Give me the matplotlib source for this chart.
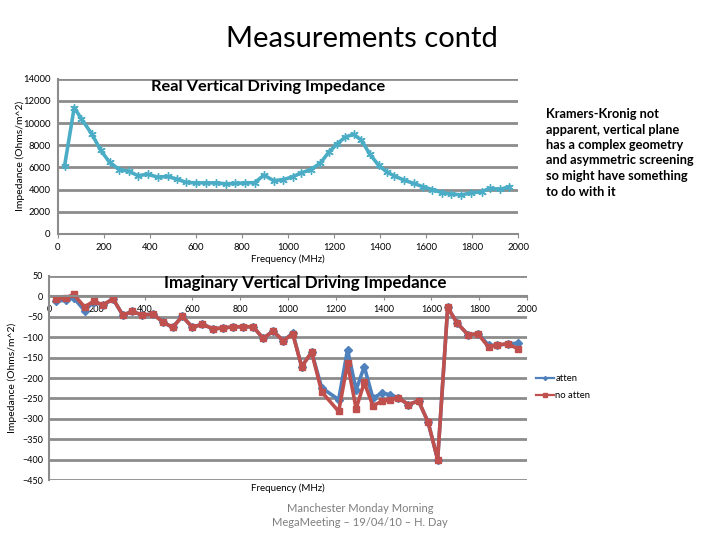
import matplotlib
matplotlib.use("Agg")
import matplotlib.pyplot as plt

plt.rcParams["font.family"] = ["Lato", "DejaVu Sans"]

# real part (Ohms/m^2) vs frequency (MHz)
freq_real = [30, 72, 103, 149, 187, 226, 268, 309, 349, 391, 435, 477, 517, 558,
             600, 642, 687, 729, 771, 813, 855, 896, 938, 980, 1020, 1057, 1099,
             1141, 1176, 1212, 1249, 1285, 1319, 1355, 1393, 1428, 1462, 1504,
             1546, 1586, 1626, 1668, 1707, 1753, 1795, 1840, 1875, 1921, 1961]
real_imp = [6100, 11400, 10400, 9000, 7550, 6450, 5800, 5650, 5250, 5380, 5120,
            5180, 4950, 4650, 4600, 4600, 4600, 4520, 4550, 4600, 4620, 5300,
            4800, 4900, 5150, 5500, 5800, 6400, 7350, 8100, 8750, 8990, 8450,
            7200, 6200, 5600, 5220, 4850, 4550, 4250, 4000, 3720, 3600, 3520,
            3700, 3800, 4100, 4020, 4250]

# imaginary part
freq_imag = [30, 72, 103, 149, 187, 226, 268, 309, 349, 391, 435, 477, 517, 558,
             600, 642, 687, 729, 771, 813, 855, 896, 938, 980, 1020, 1057, 1099,
             1141, 1212, 1249, 1285, 1319, 1355, 1393, 1428, 1462, 1504, 1546,
             1586, 1626, 1668, 1707, 1753, 1795, 1840, 1875, 1921, 1961]
imag_atten = [-11, -10, -3, -35, -14, -22, -6, -46, -37, -46, -43, -63, -76, -49,
              -76, -68, -80, -77, -75, -74, -75, -103, -85, -109, -90, -172, -137,
              -224, -253, -131, -229, -172, -249, -237, -241, -249, -265, -256,
              -308, -400, -27, -65, -94, -92, -120, -120, -116, -115]
imag_noatten = [-7, -4, 5, -26, -12, -21, -6, -46, -37, -46, -43, -63, -76, -49,
                -76, -68, -80, -77, -75, -74, -75, -103, -85, -109, -92, -172, -137,
                -234, -282, -164, -275, -211, -268, -257, -253, -249, -265, -256,
                -308, -400, -27, -65, -94, -92, -125, -118, -117, -128]

x_ticks = list(range(0, 2001, 200))
grid_col = "#8c8c8c"

fig = plt.figure(figsize=(7.2, 5.4), dpi=100)
fig.text(0.503, 0.927, "Measurements contd", ha="center", va="center", fontsize=21)


def style_axes(ax, size):
    ax.grid(axis="y", color=grid_col, linewidth=2)
    ax.set_axisbelow(True)
    for s in ["top", "right"]:
        ax.spines[s].set_visible(False)
    for s in ["left", "bottom"]:
        ax.spines[s].set_color(grid_col)
        ax.spines[s].set_linewidth(1.5)
    ax.tick_params(axis="both", labelsize=size, color=grid_col, length=3)
    ax.tick_params(axis="y", length=0, pad=5)
    ax.set_xticks(x_ticks)


# top: real part
ax1 = fig.add_axes([0.080, 0.567, 0.640, 0.287])
ax1.plot(freq_real, real_imp, color="#4bacc6", linewidth=2.6,
         marker=(6, 2, 0), markersize=6, markeredgewidth=1)
ax1.set_xlim(0, 2000)
ax1.set_ylim(0, 14000)
ax1.set_yticks(range(0, 14001, 2000))
style_axes(ax1, 6.8)
ax1.set_xlabel("Frequency (MHz)", fontsize=7, labelpad=2)
ax1.yaxis.set_label_coords(-0.07, 0.5)
ax1.set_ylabel("Impedance (Ohms/m^2)", fontsize=7.5)
ax1.text(0.456, 0.95, "Real Vertical Driving Impedance", transform=ax1.transAxes,
         ha="center", va="center", fontsize=11.8, fontweight="bold")

# bottom: imaginary part
ax2 = fig.add_axes([0.068, 0.111, 0.664, 0.378])
ax2.plot(freq_imag, imag_atten, color="#4f81bd", linewidth=2.6,
         marker="D", markersize=4, label="atten")
ax2.plot(freq_imag, imag_noatten, color="#c0504d", linewidth=2.6,
         marker="s", markersize=5, label="no atten")
ax2.set_xlim(0, 2000)
ax2.set_ylim(-450, 50)
ax2.set_yticks(range(-450, 51, 50))
style_axes(ax2, 6.5)
ax2.tick_params(axis="y", pad=4)
ax2.spines["bottom"].set_position(("data", 0))
ax2.yaxis.set_label_coords(-0.066, 0.5)
ax2.set_ylabel("Impedance (Ohms/m^2)", fontsize=7.5)
ax2.text(0.5, -0.04, "Frequency (MHz)", transform=ax2.transAxes,
         ha="center", va="center", fontsize=7)
ax2.text(0.537, 0.965, "Imaginary Vertical Driving Impedance", transform=ax2.transAxes,
         ha="center", va="center", fontsize=12.2, fontweight="bold")
ax2.legend(loc="center left", bbox_to_anchor=(1.0, 0.455), frameon=False,
           fontsize=6.8, handlelength=2.0, markerscale=0.5, labelspacing=0.9,
           handletextpad=0.1)
for line in ax2.get_legend().get_lines():
    line.set_linewidth(1.6)

fig.text(0.758, 0.80,
         "Kramers-Kronig not\napparent, vertical plane\nhas a complex geometry\n"
         "and asymmetric screening\nso might have something\nto do with it",
         ha="left", va="top", fontsize=9.2, fontweight="bold", linespacing=1.35)

fig.text(0.5, 0.046, "Manchester Monday Morning\nMegaMeeting \u2013 19/04/10 \u2013 H. Day",
         ha="center", va="center", fontsize=8, color="#7f7f7f", linespacing=1.3)

fig.savefig("out.png", dpi=100)
